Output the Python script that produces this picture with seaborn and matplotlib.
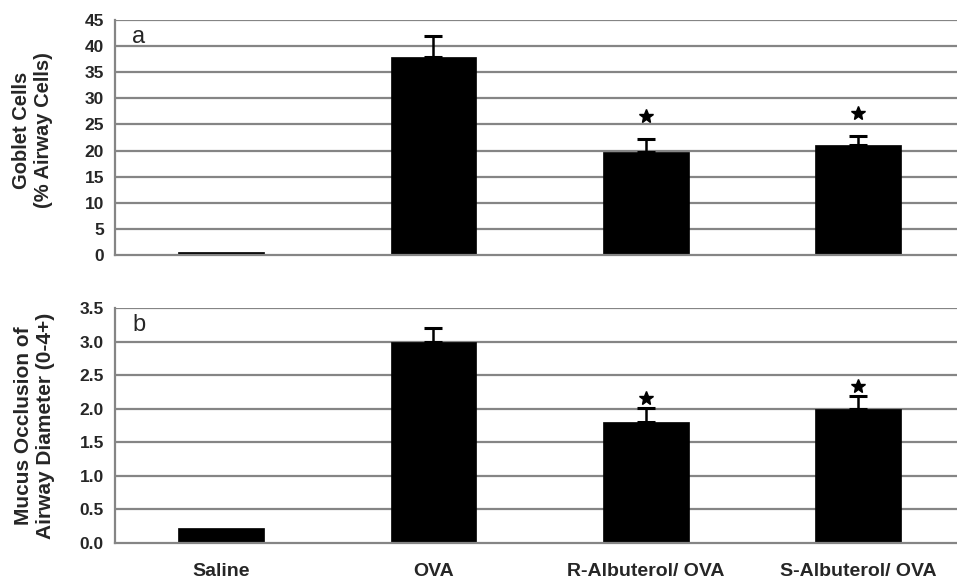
import matplotlib
matplotlib.use("Agg")
import matplotlib.pyplot as plt
import seaborn as sns
import pandas as pd

groups = ["Saline", "OVA", "R-Albuterol/ OVA", "S-Albuterol/ OVA"]

goblet_mean = [0.55, 38.0, 19.7, 21.1]
goblet_sem = [0.0, 3.9, 2.6, 1.7]
goblet_sig = [False, False, True, True]

mucus_mean = [0.22, 3.0, 1.8, 2.0]
mucus_sem = [0.0, 0.21, 0.21, 0.19]
mucus_sig = [False, False, True, True]

sns.set_style("white")
plt.rcParams["font.family"] = ["Liberation Sans", "DejaVu Sans"]

fig = plt.figure(figsize=(9.57, 5.79), dpi=100)
# axes run past the right edge of the figure, so the gridlines bleed off the page
ax_a = fig.add_axes([0.1202, 0.5596, 0.8874, 0.4059])
ax_b = fig.add_axes([0.1202, 0.0622, 0.8874, 0.4050])

grid_color = "#858585"


def panel(ax, means, sems, sig, ymax, ystep, fmt, letter, ylabel, star_gap,
          label_xy, label_size, show_x):
    df = pd.DataFrame({"group": groups, "value": means})
    for v in [i * ystep for i in range(1, int(round(ymax / ystep)) + 1)]:
        ax.axhline(v, color=grid_color, lw=1.6, zorder=0)
    sns.barplot(data=df, x="group", y="value", color="black", width=0.405,
                saturation=1, ax=ax, zorder=2, edgecolor="black", linewidth=0.5)
    xs = list(range(len(groups)))
    for x, m, s, st in zip(xs, means, sems, sig):
        if s > 0:
            ax.errorbar(x, m, yerr=[[0], [s]], fmt="none", ecolor="black",
                        elinewidth=1.8, capsize=6.8, capthick=2.2, zorder=3)
        if st:
            ax.plot(x, m + s + star_gap, marker="*", ms=10, color="black",
                    zorder=4, clip_on=False)
    ax.set_xlim(-0.5, len(groups) - 0.5)
    ax.set_ylim(0, ymax)
    ticks = [i * ystep for i in range(0, int(round(ymax / ystep)) + 1)]
    ax.set_yticks(ticks)
    ax.set_yticklabels([fmt.format(t) for t in ticks], fontsize=12.5, fontweight="bold")
    ax.set_xticks([-0.5, 0.5, 1.5, 2.5])
    ax.set_xticklabels([""] * 4)
    ax.tick_params(axis="x", length=4, width=1, color=grid_color)
    ax.tick_params(axis="y", length=5, width=1, color=grid_color, pad=3)
    if show_x:
        for x, g in zip(xs, groups):
            ax.text(x, -0.085, g, transform=ax.get_xaxis_transform(), ha="center",
                    va="top", fontsize=14, fontweight="bold")
    ax.set_xlabel("")
    ax.set_ylabel(ylabel, fontsize=label_size, fontweight="bold", linespacing=1.2)
    ax.yaxis.set_label_coords(*label_xy)
    for side in ["top", "right"]:
        ax.spines[side].set_visible(False)
    for side in ["left", "bottom"]:
        ax.spines[side].set_color(grid_color)
        ax.spines[side].set_linewidth(1.6)
    ax.text(0.0205, 0.975, letter, transform=ax.transAxes, ha="left", va="top",
            fontsize=17)


panel(ax_a, goblet_mean, goblet_sem, goblet_sig, 45, 5, "{:.0f}", "a",
      "Goblet Cells\n(% Airway Cells)", 4.3, (-0.073, 0.53), 14.5, False)
panel(ax_b, mucus_mean, mucus_sem, mucus_sig, 3.5, 0.5, "{:.1f}", "b",
      "Mucus Occlusion of\nAirway Diameter (0-4+)", 0.16, (-0.071, 0.5), 15, True)

fig.savefig("out.png", dpi=100)
